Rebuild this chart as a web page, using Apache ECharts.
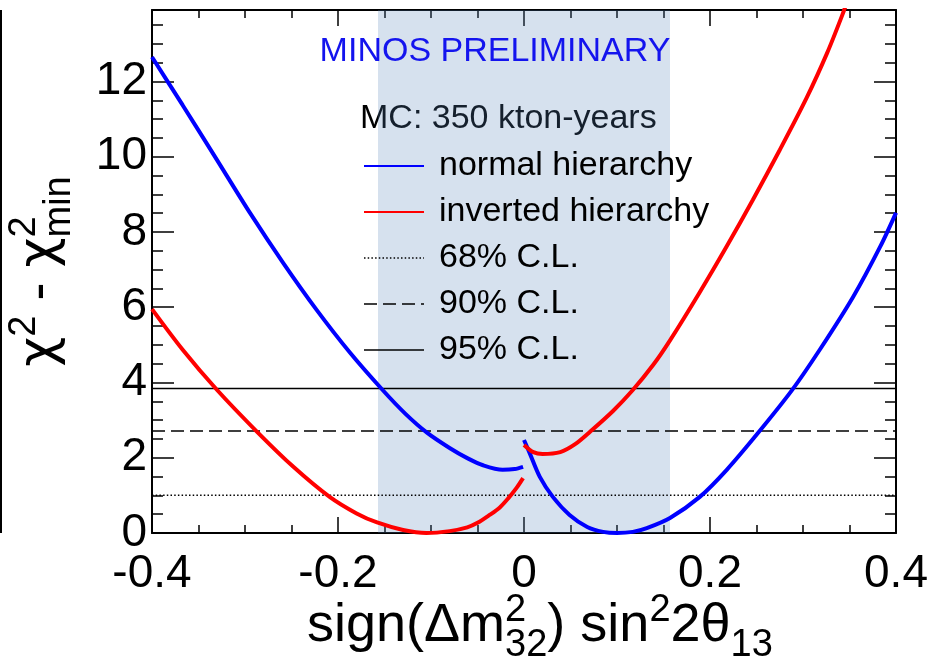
<!DOCTYPE html>
<html><head><meta charset="utf-8">
<script src="https://cdn.jsdelivr.net/npm/echarts@6/dist/echarts.min.js"></script>
<style>html,body{margin:0;padding:0;background:#fff}#c{width:944px;height:661px}</style>
</head><body><div id="c"></div>
<script>
// ---- data ----
const xTickValues = [-0.4, -0.2, 0, 0.2, 0.4];
const yTickValues = [0, 2, 4, 6, 8, 10, 12];
const nhLeft = [[-0.4,12.65],[-0.367,11.37],[-0.33,9.91],[-0.295,8.52],[-0.259,7.18],[-0.223,5.93],[-0.187,4.79],[-0.152,3.80],[-0.128,3.18],[-0.104,2.66],[-0.080,2.26],[-0.061,1.99],[-0.044,1.80],[-0.023,1.68],[-0.010,1.70],[-0.001,1.76]];
const nhRight = [[0.0,2.47],[0.006,2.13],[0.017,1.49],[0.031,0.96],[0.049,0.48],[0.068,0.16],[0.085,0.03],[0.100,0.0],[0.117,0.03],[0.132,0.13],[0.157,0.40],[0.189,0.96],[0.218,1.68],[0.252,2.67],[0.288,3.79],[0.318,4.87],[0.354,6.28],[0.383,7.61],[0.4,8.51]];
const ihLeft = [[-0.4,5.95],[-0.367,4.87],[-0.33,3.80],[-0.287,2.69],[-0.248,1.76],[-0.209,0.96],[-0.18,0.52],[-0.158,0.28],[-0.13,0.08],[-0.105,0.0],[-0.08,0.05],[-0.061,0.15],[-0.05,0.27],[-0.037,0.48],[-0.026,0.68],[-0.017,0.92],[-0.008,1.20],[-0.001,1.46]];
const ihRight = [[0.0,2.34],[0.010,2.15],[0.020,2.10],[0.039,2.15],[0.055,2.36],[0.071,2.69],[0.096,3.25],[0.117,3.80],[0.139,4.47],[0.157,5.12],[0.189,6.40],[0.218,7.62],[0.246,8.85],[0.275,10.18],[0.304,11.57],[0.326,12.76],[0.342,13.75],[0.35,14.3]];
const clLevels = [1.0, 2.71, 3.84];
const clNames = ['68% C.L.', '90% C.L.', '95% C.L.'];
const curveNames = ['normal hierarchy', 'inverted hierarchy'];
const bandRange = [-0.157, 0.157];
const xRange = [-0.4, 0.4];
const yRange = [0, 13.9];

// ---- helpers ----
const FONT = '"Liberation Sans", Arial, sans-serif';
const GREEK = '"DejaVu Sans", sans-serif';
const mctx = document.createElement('canvas').getContext('2d');
function tw(t, fs, fam) { mctx.font = fs + 'px ' + (fam || FONT); return mctx.measureText(t).width; }
function buildMath(pieces, F, f, supOff, subOff) {
  let x = 0; const kids = [];
  const add = (t, fs, base, xx, fam) => kids.push({type: 'text', silent: true, style: {
    text: t, x: xx, y: base - 0.347 * fs, font: fs + 'px ' + (fam || FONT), fill: '#000',
    textAlign: 'left', textVerticalAlign: 'middle', align: 'left', verticalAlign: 'middle'}});
  for (const p of pieces) {
    if (p.n) { add(p.n, p.s || F, 0, x, p.f); x += tw(p.n, p.s || F, p.f); }
    else {
      let w = 0;
      if (p.sup) { add(p.sup, f, supOff, x); w = Math.max(w, tw(p.sup, f)); }
      if (p.sub) { add(p.sub, f, subOff, x); w = Math.max(w, tw(p.sub, f)); }
      x += w;
    }
  }
  return {kids, width: x};
}

const chart = echarts.init(document.getElementById('c'), null, {renderer: 'canvas'});
const axisBlack = {color: '#000', width: 2};
const tickStyle = {color: '#000', width: 1.5};

function xAx(pos, showLabel) {
  return {
    type: 'value', position: pos, min: xRange[0], max: xRange[1], interval: 0.2,
    axisLine: {show: true, onZero: false, lineStyle: axisBlack},
    axisTick: {show: true, inside: true, length: 16, lineStyle: tickStyle},
    minorTick: {show: true, splitNumber: 4, length: 8, lineStyle: tickStyle},
    splitLine: {show: false}, minorSplitLine: {show: false},
    axisLabel: {show: showLabel, fontSize: 46, fontFamily: FONT, color: '#000', margin: 18,
      formatter: v => (Math.abs(v) < 1e-9 ? '0' : (xTickValues.some(t => Math.abs(t - v) < 1e-9) ? v.toFixed(1) : ''))}
  };
}
function yAx(pos, interval, len, showLine, showLabel) {
  return {
    type: 'value', position: pos, min: yRange[0], max: yRange[1], interval: interval,
    axisLine: {show: showLine, onZero: false, lineStyle: axisBlack},
    axisTick: {show: true, inside: true, length: len, lineStyle: tickStyle},
    splitLine: {show: false},
    axisLabel: {show: showLabel, fontSize: 46, fontFamily: FONT, color: '#000', margin: 5,
      formatter: v => (yTickValues.indexOf(v) >= 0 ? String(v) : '')}
  };
}

const xT = buildMath([{n: 'sign(\u0394m'}, {sup: '2', sub: '32'}, {n: ') sin'}, {sup: '2'}, {n: '2\u03b8'}, {sub: '13'}], 54, 38, -21, 14);
const yT = buildMath([{n: '\u03c7', f: GREEK, s: 52}, {sup: '2'}, {n: ' - '}, {n: '\u03c7', f: GREEK, s: 52}, {sup: '2', sub: 'min'}], 54, 38, -21, 14);

const series = [];
series.push({type: 'line', name: curveNames[0], data: nhLeft, symbol: 'none', smooth: 0.3, color: '#0000ff', lineStyle: {color: '#0000ff', width: 4}, z: 3});
series.push({type: 'line', name: curveNames[0], data: nhRight, symbol: 'none', smooth: 0.3, color: '#0000ff', lineStyle: {color: '#0000ff', width: 4}, z: 3});
series.push({type: 'line', name: curveNames[1], data: ihLeft, symbol: 'none', smooth: 0.3, color: '#ff0000', lineStyle: {color: '#ff0000', width: 4}, z: 3});
series.push({type: 'line', name: curveNames[1], data: ihRight, symbol: 'none', smooth: 0.3, color: '#ff0000', lineStyle: {color: '#ff0000', width: 4}, z: 3});
const clTypes = [[1.5, 2.2], [13, 6], 'solid'];
clLevels.forEach((lv, i) => series.push({
  type: 'line', name: clNames[i], data: [[xRange[0], lv], [xRange[1], lv]], symbol: 'none', color: '#000',
  lineStyle: {color: '#000', width: 1.5, type: clTypes[i]}, z: 2
}));
series.push({
  type: 'line', name: 'band', data: [], symbol: 'none', z: 10, silent: true,
  markArea: {silent: true, itemStyle: {color: 'rgba(86,132,185,0.243)'},
    data: [[{xAxis: bandRange[0]}, {xAxis: bandRange[1]}]]}
});

chart.setOption({
  animation: false,
  backgroundColor: '#fff',
  grid: {left: 152, right: 48, top: 10, bottom: 128},
  xAxis: [xAx('bottom', true), xAx('top', false)],
  yAxis: [yAx('left', 2, 22, true, true), yAx('left', 0.5, 11, false, false), yAx('right', 2, 22, true, false), yAx('right', 0.5, 11, false, false)],
  legend: {
    orient: 'vertical', left: 363, top: 149, padding: 0, itemWidth: 60, itemHeight: 14, itemGap: 12,
    selectedMode: false, z: 4,
    itemStyle: {opacity: 0},
    textStyle: {fontSize: 34, fontFamily: FONT, color: '#000', lineHeight: 30, padding: [0, 0, 0, 10]},
    data: [
      {name: curveNames[0], lineStyle: {width: 2}},
      {name: curveNames[1], lineStyle: {width: 2}},
      {name: clNames[0], lineStyle: {width: 1.5}},
      {name: clNames[1], lineStyle: {width: 1.5}},
      {name: clNames[2], lineStyle: {width: 1.5}}
    ]
  },
  graphic: [
    {type: 'text', silent: true, z: 50, style: {text: 'MINOS PRELIMINARY', x: 495, y: 52, font: '34px ' + FONT, fill: '#1414ee', textAlign: 'center', textVerticalAlign: 'middle', align: 'center', verticalAlign: 'middle'}},
    {type: 'text', silent: true, z: 0, style: {text: 'MC: 350 kton-years', x: 360, y: 119, font: '34px ' + FONT, fill: '#000', textAlign: 'left', textVerticalAlign: 'middle', align: 'left', verticalAlign: 'middle'}},
    {type: 'group', x: 307, y: 645, children: xT.kids},
    {type: 'group', x: 59, y: 271.5 + yT.width / 2, rotation: Math.PI / 2, children: yT.kids},
    {type: 'line', silent: true, shape: {x1: 1, y1: 10, x2: 1, y2: 533}, style: {stroke: '#000', lineWidth: 2}}
  ],
  series: series
});
</script></body></html>
